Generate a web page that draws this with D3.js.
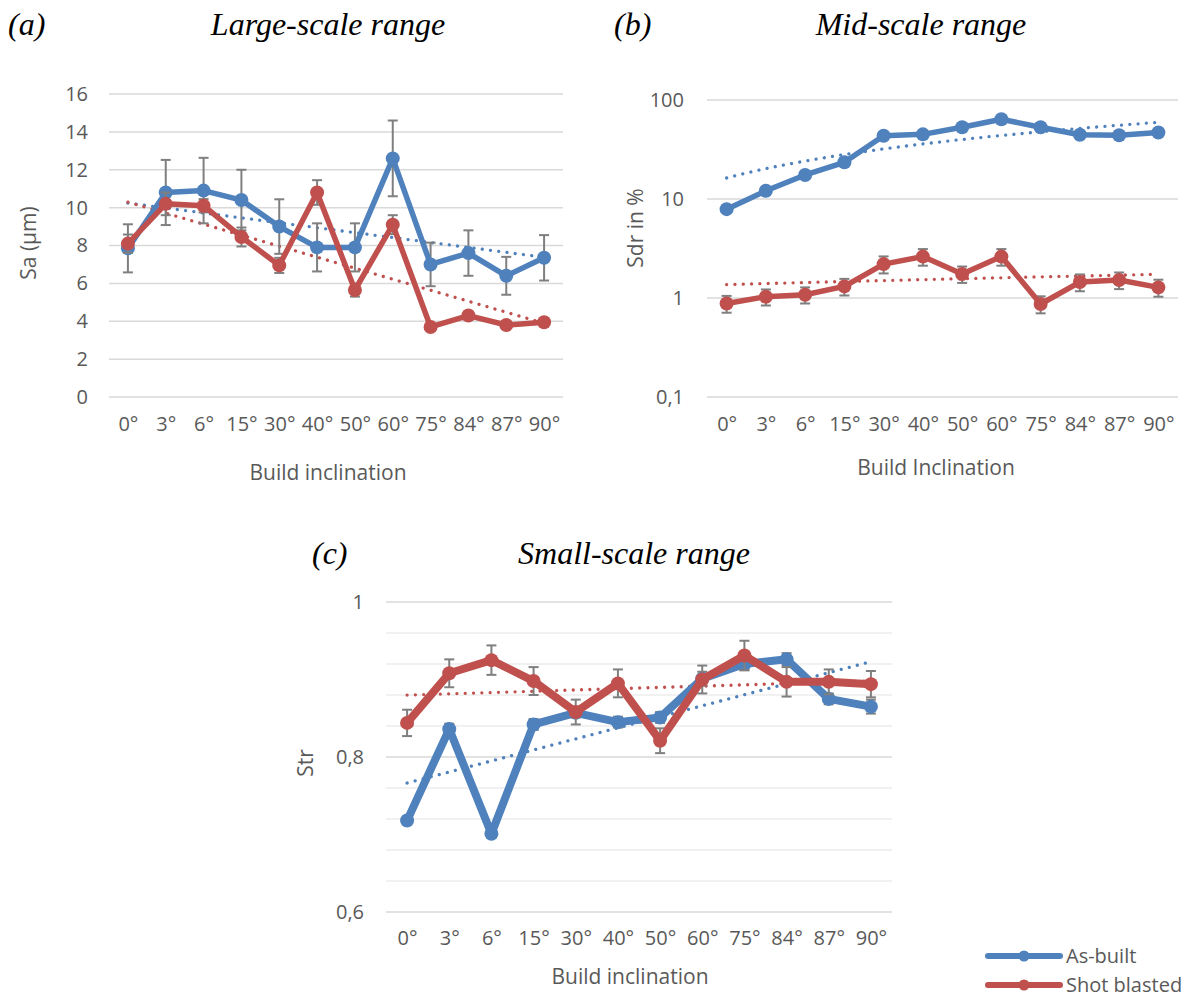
<!DOCTYPE html>
<html>
<head>
<meta charset="utf-8">
<script src="https://cdn.jsdelivr.net/npm/d3@7"></script>
<style>
  body { margin: 0; background: #fff; }
  svg { display: block; }
</style>
</head>
<body>
<div id="chart"></div>
<script>
const categories = ["0°", "3°", "6°", "15°", "30°", "40°", "50°", "60°", "75°", "84°", "87°", "90°"];

// (a) Sa in µm
const saAsBuilt    = [7.85, 10.8, 10.9, 10.4, 9.0, 7.9, 7.9, 12.6, 7.0, 7.6, 6.4, 7.35];
const saAsBuiltErr = [1.27, 1.72, 1.73, 1.6, 1.44, 1.27, 1.27, 2.0, 1.15, 1.2, 1.0, 1.2];
const saShot       = [8.1, 10.2, 10.1, 8.45, 6.95, 10.8, 5.65, 9.1, 3.7, 4.3, 3.8, 3.95];
const saShotErr    = [0.48, 0.6, 0.35, 0.5, 0.4, 0.65, 0.35, 0.5, 0.15, 0.2, 0.15, 0.15];

// (b) Sdr in %
const sdrAsBuilt    = [7.9, 12.1, 17.5, 23.5, 43.5, 45, 53, 64, 53, 44.5, 44, 47];
const sdrAsBuiltErr = [0.5, 0.8, 1, 1.5, 2.5, 3, 3, 4, 3, 3, 3, 3];
const sdrShot       = [0.88, 1.03, 1.08, 1.31, 2.2, 2.62, 1.75, 2.62, 0.87, 1.45, 1.52, 1.28];
const sdrShotErr    = [0.17, 0.19, 0.2, 0.25, 0.43, 0.5, 0.33, 0.5, 0.17, 0.28, 0.29, 0.25];

// (c) Str
const strAsBuilt    = [0.718, 0.836, 0.701, 0.842, 0.857, 0.845, 0.851, 0.901, 0.920, 0.926, 0.875, 0.865];
const strAsBuiltErr = [0.004, 0.007, 0.005, 0.007, 0.006, 0.007, 0.007, 0.009, 0.008, 0.008, 0.007, 0.009];
const strShot       = [0.844, 0.908, 0.925, 0.898, 0.858, 0.895, 0.821, 0.900, 0.931, 0.897, 0.897, 0.894];
const strShotErr    = [0.017, 0.018, 0.019, 0.018, 0.016, 0.018, 0.016, 0.018, 0.019, 0.019, 0.016, 0.017];

const seriesNames = ["As-built", "Shot blasted"];
const colors = ["#4F81BD", "#C0504D"];

const W = 1189, H = 999;
const labelFont = "'Open Sans', sans-serif";
const titleFont = "'Liberation Serif', 'Times New Roman', serif";
const textGray = "#595959";
const tickSize = 20, axisTitleSize = 21, titleSize = 32;

const svg = d3.select("#chart").append("svg")
  .attr("width", W).attr("height", H);
svg.append("rect").attr("width", W).attr("height", H).attr("fill", "#fff");

// least squares line over category index
function linFit(vals) {
  const xs = vals.map((v, i) => i);
  const mx = d3.mean(xs), my = d3.mean(vals);
  let sxy = 0, sxx = 0;
  xs.forEach((x, i) => { sxy += (x - mx) * (vals[i] - my); sxx += (x - mx) * (x - mx); });
  const b = sxy / sxx;
  return i => my + b * (i - mx);
}

function drawPanel(p) {
  const g = svg.append("g");
  const x = d3.scalePoint().domain(categories).range([p.x0, p.x1]).padding(0.5);
  const step = x.step();
  const xi = i => x(categories[0]) + i * step;
  const y = p.log
    ? d3.scaleLog().domain(p.domain).range([p.y1, p.y0])
    : d3.scaleLinear().domain(p.domain).range([p.y1, p.y0]);

  // minor grid
  if (p.minorTicks) {
    g.append("g").selectAll("line").data(p.minorTicks).enter().append("line")
      .attr("x1", p.x0).attr("x2", p.x1)
      .attr("y1", d => y(d)).attr("y2", d => y(d))
      .attr("stroke", "#EDEDED").attr("stroke-width", 1.5);
  }
  // major grid
  g.append("g").selectAll("line").data(p.ticks).enter().append("line")
    .attr("x1", p.x0).attr("x2", p.x1)
    .attr("y1", d => y(d)).attr("y2", d => y(d))
    .attr("stroke", "#D9D9D9").attr("stroke-width", 1.5);

  // y axis labels
  const yAxis = d3.axisLeft(y).tickValues(p.ticks).tickSize(0).tickPadding(0)
    .tickFormat(p.fmt);
  const ya = g.append("g").attr("transform", `translate(${p.yLabelX},0)`).call(yAxis);
  ya.select(".domain").remove();
  ya.selectAll("text").attr("font-family", labelFont).attr("font-size", tickSize)
    .attr("fill", textGray);

  // x axis labels
  const xAxis = d3.axisBottom(x).tickSize(0).tickPadding(0);
  const xa = g.append("g").attr("transform", `translate(0,${p.xLabelY})`).call(xAxis);
  xa.select(".domain").remove();
  xa.selectAll("text").attr("font-family", labelFont).attr("font-size", tickSize)
    .attr("fill", textGray);

  // axis titles
  g.append("text").attr("x", p.xTitle[0]).attr("y", p.xTitle[1])
    .attr("text-anchor", "middle").attr("font-family", labelFont).attr("font-size", axisTitleSize)
    .attr("fill", textGray).text(p.xTitleText);
  g.append("text")
    .attr("transform", `translate(${p.yTitle[0]},${p.yTitle[1]}) rotate(-90)`)
    .attr("text-anchor", "middle").attr("font-family", labelFont).attr("font-size", axisTitleSize)
    .attr("fill", textGray).text(p.yTitleText);

  // panel titles
  g.append("text").attr("x", p.tag[0]).attr("y", p.tag[1])
    .attr("font-family", titleFont).attr("font-style", "italic").attr("font-size", titleSize)
    .attr("fill", "#000").text(p.tagText);
  g.append("text").attr("x", p.title[0]).attr("y", p.title[1])
    .attr("text-anchor", "middle")
    .attr("font-family", titleFont).attr("font-style", "italic").attr("font-size", titleSize)
    .attr("fill", "#000").text(p.titleText);

  // trend lines
  p.series.forEach((s, k) => {
    const f = linFit(s.values);
    const pts = d3.range(0, 11.001, 0.1).map(i => [xi(i), y(f(i))]);
    g.append("path").attr("d", d3.line()(pts))
      .attr("fill", "none").attr("stroke", colors[k]).attr("stroke-width", 3.3)
      .attr("stroke-linecap", "round").attr("stroke-dasharray", "0.01 8.3");
  });

  // series
  p.series.forEach((s, k) => {
    const sg = g.append("g");
    const capW = 5;
    const eb = sg.append("g").selectAll("g").data(s.values).enter().append("g")
      .attr("stroke", "#7F7F7F").attr("stroke-width", 2);
    eb.append("line")
      .attr("x1", (d, i) => x(categories[i])).attr("x2", (d, i) => x(categories[i]))
      .attr("y1", (d, i) => y(d + s.err[i])).attr("y2", (d, i) => y(d - s.err[i]));
    eb.append("line")
      .attr("x1", (d, i) => x(categories[i]) - capW).attr("x2", (d, i) => x(categories[i]) + capW)
      .attr("y1", (d, i) => y(d + s.err[i])).attr("y2", (d, i) => y(d + s.err[i]));
    eb.append("line")
      .attr("x1", (d, i) => x(categories[i]) - capW).attr("x2", (d, i) => x(categories[i]) + capW)
      .attr("y1", (d, i) => y(d - s.err[i])).attr("y2", (d, i) => y(d - s.err[i]));

    sg.append("path")
      .attr("d", d3.line().x((d, i) => x(categories[i])).y(d => y(d))(s.values))
      .attr("fill", "none").attr("stroke", colors[k]).attr("stroke-width", p.lineW)
      .attr("stroke-linejoin", "round").attr("stroke-linecap", "round");
    sg.append("g").selectAll("circle").data(s.values).enter().append("circle")
      .attr("cx", (d, i) => x(categories[i])).attr("cy", d => y(d))
      .attr("r", p.markerR).attr("fill", colors[k]);
  });
}

drawPanel({
  x0: 109, x1: 563, y0: 94, y1: 397, domain: [0, 16],
  ticks: d3.range(0, 17, 2), fmt: d3.format("d"),
  yLabelX: 88, xLabelY: 417,
  xTitle: [328, 480], xTitleText: "Build inclination",
  yTitle: [36, 243], yTitleText: "Sa (µm)",
  tag: [8, 35], tagText: "(a)",
  title: [328, 35], titleText: "Large-scale range",
  lineW: 5.5, markerR: 7,
  series: [
    { values: saAsBuilt, err: saAsBuiltErr },
    { values: saShot, err: saShotErr }
  ]
});

drawPanel({
  x0: 707, x1: 1178, y0: 100, y1: 397, domain: [0.1, 100], log: true,
  ticks: [0.1, 1, 10, 100], fmt: d => d < 1 ? "0,1" : d3.format("d")(d),
  yLabelX: 684, xLabelY: 417,
  xTitle: [936, 475], xTitleText: "Build Inclination",
  yTitle: [643, 228], yTitleText: "Sdr in %",
  tag: [614, 35], tagText: "(b)",
  title: [921, 35], titleText: "Mid-scale range",
  lineW: 5.5, markerR: 7,
  series: [
    { values: sdrAsBuilt, err: sdrAsBuiltErr },
    { values: sdrShot, err: sdrShotErr }
  ]
});

drawPanel({
  x0: 386, x1: 892, y0: 602, y1: 912, domain: [0.6, 1],
  ticks: [0.6, 0.8, 1], minorTicks: [0.64, 0.68, 0.72, 0.76, 0.84, 0.88, 0.92, 0.96],
  fmt: d => d3.format(".1f")(d).replace(".", ",").replace(/,0$/, ""),
  yLabelX: 364, xLabelY: 931,
  xTitle: [630, 984], xTitleText: "Build inclination",
  yTitle: [313, 763], yTitleText: "Str",
  tag: [312, 564], tagText: "(c)",
  title: [634, 564], titleText: "Small-scale range",
  lineW: 8, markerR: 7,
  series: [
    { values: strAsBuilt, err: strAsBuiltErr },
    { values: strShot, err: strShotErr }
  ]
});

// legend
const leg = svg.append("g").attr("transform", "translate(988,956)");
seriesNames.forEach((name, k) => {
  const lg = leg.append("g").attr("transform", `translate(0,${k * 29})`);
  lg.append("line").attr("x1", 0).attr("x2", 72).attr("y1", 0).attr("y2", 0)
    .attr("stroke", colors[k]).attr("stroke-width", 6).attr("stroke-linecap", "round");
  lg.append("circle").attr("cx", 36).attr("cy", 0).attr("r", 5.5).attr("fill", colors[k]);
  lg.append("text").attr("x", 78).attr("y", 0).attr("dy", "0.35em")
    .attr("font-family", labelFont).attr("font-size", 20).attr("fill", textGray)
    .text(name);
});
</script>
</body>
</html>
